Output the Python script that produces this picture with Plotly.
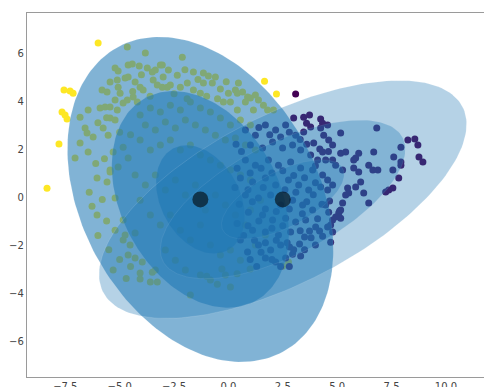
import numpy as np
import plotly.graph_objects as go

# Points assigned to the yellow component (label 1)
label1_x = [-5.99, -7.56, -7.28, -7.14, -7.65, -7.51, -7.42, -7.79, -8.34, 1.66, 2.21,
            -4.65, -3.82, -2.12, -5.21, -5.07, -4.61, -4.42, -4.10, -3.73, -3.50, -3.36, -3.13,
            -2.76, -2.35, -1.61, -1.15, -0.92, -5.81, -5.58, -5.44, -5.11, -5.07, -4.98, -4.75,
            -4.61, -4.29, -4.06, -3.92, -3.46, -3.27, -2.81, -1.89, -1.15, -0.74, -0.37, 0.00,
            0.32, -5.90, -5.67, -5.44, -5.21, -5.11, -4.84, -4.65, -4.38, -4.19, -6.82, -6.45,
            -5.44, -5.21, -6.59, -6.50, -6.22, -5.76, -5.53, -6.82, -6.45, -7.05, -6.04, -5.58,
            -5.30, -4.84, -4.61, -5.44, -5.07, -3.04, -2.67, -2.21, -1.61, -1.29, 0.46, 0.41,
            0.65, 0.88, 0.09, -0.23, 1.24, 1.38, 1.61, 0.78, 1.01, 1.80, 2.07, 1.15, 0.41,
            -3.04, -6.27, -6.04, -5.21, -4.84, -5.21, -4.75, -4.84, -4.61, -4.29, -3.96, -5.30,
            -4.06, -4.06, -3.50, -3.36, -3.59, -3.27, -1.75, -4.29, -4.52, -0.51, 0.09, 2.49,
            2.76, -5.44,
            -4.06, -3.59, -3.13, -2.67, -2.21, -1.75, -1.29, -0.83, -0.37, 0.09, 0.55, 1.01,
            -3.82, -3.36, -2.90, -2.44, -1.98, -1.52, -1.06, -0.60, -0.14, 0.32, 0.78, 1.24,
            -4.06, -3.59, -3.13, -2.67, -2.21, -1.75, -1.29, -0.83, -0.37, 0.09, 0.55, 1.01,
            -4.29, -3.82, -3.36, -2.90, -2.44, -1.98, -1.52, -1.06, -0.60, -0.14, 0.32, 0.78,
            -4.06, -3.59, -3.13, -2.67, -2.21, -1.75, -1.29, -0.83, -0.37, 0.09, 0.55, 1.24,
            1.70, 1.47, 1.01, -2.90, -2.44, -1.98, -1.29, -0.83, -0.14,
            -4.00, -3.00, -2.00, -1.40, -0.60, -0.10, -4.40, -3.60, -2.50, -1.90, -1.00, -0.50,
            -5.60, -6.00, -5.00, -4.50, -6.10, -5.70, -6.40, -5.80, -5.60, -6.00, -5.50, -5.00,
            -4.50, -4.70, -0.30, 0.40, 1.00, -1.00]
label1_y = [6.42, 4.46, 4.42, 4.33, 3.54, 3.42, 3.25, 2.21, 0.37, 4.83, 4.29,
            6.25, 6.00, 5.83, 5.38, 5.25, 5.50, 5.54, 5.46, 5.38, 5.21, 5.29, 5.50,
            5.29, 5.08, 5.21, 5.17, 5.04, 4.46, 4.38, 4.79, 4.88, 4.58, 4.33, 4.96,
            5.00, 4.79, 4.58, 4.46, 4.88, 4.67, 4.58, 4.75, 4.75, 4.75, 4.50, 4.33,
            4.46, 3.71, 3.75, 3.75, 4.04, 3.63, 3.92, 4.04, 4.17, 3.96, 3.33, 3.63,
            3.29, 3.21, 2.88, 2.67, 2.50, 2.88, 2.58, 2.25, 1.88, 1.63, 0.79, 0.63,
            1.88, 2.08, 1.63, 1.13, 1.25, 5.50, 4.67, 4.58, 4.46, 4.33, 4.75, 4.33,
            4.38, 4.17, 3.96, 3.96, 4.25, 4.04, 3.83, 3.96, 4.13, 3.63, 3.63, 3.63, 3.63,
            4.58, -0.38, -0.75, -0.04, -0.96, -1.38, -1.58, -1.79, -2.42, -2.54, -2.71, -3.04,
            -3.17, -3.42, -3.13, -3.04, -3.54, -3.54, -4.08, -1.50, -2.00, -3.63, -3.75, -2.88,
            -2.71, 1.04,
            3.42, 3.71, 3.54, 3.83, 3.63, 3.96, 3.71, 3.54, 3.29, 3.00, 3.21, 3.00,
            3.00, 2.79, 3.13, 2.88, 3.21, 3.00, 2.79, 2.58, 2.38, 2.46, 2.17, 1.96,
            2.38, 1.96, 2.17, 2.38, 1.96, 2.17, 1.75, 1.54, 1.33, 1.13, 0.92, 0.71,
            0.92, 0.50, 0.92, 0.29, 0.71, 0.08, 0.50, -0.54, 0.08, -0.33, -0.75, -1.17,
            -0.13, -0.75, -1.17, -0.75, -1.38, -1.79, -1.17, -2.00, -2.42, -2.21, -2.63, -2.00,
            -1.58, -0.13, -0.54, -2.21, -2.63, -3.04, -3.25, -3.46, -3.25,
            5.10, 5.00, 5.30, 4.90, 5.00, 4.80, 4.40, 4.20, 4.30, 4.10, 4.20, 4.10,
            3.30, 3.10, 2.70, 2.60, 1.40, 1.60, 0.20, -0.10, -1.00, -1.60, -2.20, -2.60,
            -2.90, -3.40, -3.00, -3.20, -3.00, -3.30]

# Points assigned to the purple component (label 0)
label0_x = [3.09, 3.00, 3.46, 3.73, 3.59, 3.78, 4.24, 4.33, 4.56, 3.46, 4.24, 4.38, 5.16,
            6.82, 3.92, 4.61, 4.79, 4.33, 5.16, 5.39, 5.99, 5.85, 5.76, 6.68, 7.93, 8.25,
            8.57, 8.71, 8.76, 8.94, 7.60, 7.93, 4.10, 4.47, 4.79, 4.93, 5.25, 5.76, 5.99,
            6.45, 6.64, 6.87, 7.56, 7.83, 7.56, 7.23, 6.08, 5.85, 5.48, 5.53, 5.39, 6.22,
            6.45, 5.25, 5.16, 5.07, 4.93, 4.79, 4.70, 4.79, 5.16, 4.70, 7.37, 4.33, 4.56,
            4.79, 4.56, 4.24, 4.47, 4.61, 4.65, 5.11, 4.56, 4.19, 4.01, 3.73, 3.50, 3.27,
            3.32, 2.81, 2.95, 4.33, 7.93,
            0.78, 1.24, 1.70, 2.17, 2.63, 3.09, 1.01, 1.57, 2.03, 2.49, 2.95, 3.32, 3.78,
            0.78, 1.24, 1.84, 2.30, 2.86, 3.32, 3.87, 0.55, 1.11, 1.70, 2.17, 2.76, 3.23,
            3.69, 0.78, 1.38, 1.94, 2.40, 2.95, 3.41, 3.87, 0.92, 1.57, 2.03, 2.63, 3.09,
            3.55, 1.11, 1.70, 2.30, 2.86, 1.38, 1.94, 2.40, 1.70, 2.17, 2.63, 0.55, 0.88,
            0.35, 0.60, 1.40, 1.90, 2.40, 2.80, 3.30, 3.60, 0.40, 1.00, 1.50, 2.00, 2.50,
            3.00, 3.50, 4.00, 0.30, 0.90, 1.60, 2.60, 3.10, 3.90, 0.50, 1.10, 1.70, 2.20,
            2.80, 3.40, 4.10, 0.40, 0.90, 1.40, 2.00, 2.50, 3.30, 3.80, 0.70, 1.20, 1.70,
            2.20, 2.70, 3.00, 1.00, 1.50, 2.00, 2.40, 1.30, 2.80, 3.50, 4.00, 4.20, 4.60,
            4.00, 4.30, 3.60]
label0_y = [4.29, 3.29, 3.33, 3.42, 3.08, 2.92, 3.25, 3.08, 3.00, 2.71, 2.88, 2.58, 2.67,
            2.88, 2.25, 2.38, 2.17, 1.88, 1.83, 1.88, 1.83, 1.63, 1.54, 1.88, 2.08, 2.38,
            2.42, 2.17, 1.67, 1.46, 1.67, 1.46, 1.54, 1.54, 1.54, 1.33, 1.13, 1.21, 1.04,
            1.33, 1.13, 1.13, 1.13, 0.79, 0.38, 0.21, 0.63, 0.42, 0.38, 0.17, 0.08, 0.17,
            -0.25, -0.25, -0.54, -0.67, -0.83, -0.96, -1.17, -1.46, -0.88, -1.88, 0.29, 0.92, 0.71,
            0.50, 0.29, 0.42, -0.33, -0.63, -0.17, -0.58, -1.25, -1.42, -1.25, -1.42, -1.67, -1.96,
            -2.46, -2.08, -2.38, -1.63, 1.33,
            2.79, 2.58, 3.00, 2.79, 3.00, 2.58, 2.17, 2.04, 2.29, 2.04, 2.17, 1.96, 1.75,
            1.54, 1.33, 1.54, 1.33, 1.46, 1.21, 1.13, 0.79, 0.63, 0.79, 0.50, 0.71, 0.50,
            0.29, 0.08, -0.04, 0.08, -0.33, -0.13, -0.33, -0.54, -0.63, -0.75, -0.96, -0.88, -1.04,
            -0.96, -1.38, -1.46, -1.58, -1.46, -2.00, -2.21, -2.00, -2.54, -2.71, -2.54, -1.79, -2.29,
            2.20, 1.90, 2.90, 2.60, 2.50, 2.70, 2.40, 2.20, 1.20, 1.00, 1.20, 1.00, 1.10,
            0.90, 0.80, 0.60, 0.40, 0.30, 0.40, 0.30, 0.20, 0.10, -0.30, -0.20, -0.50, -0.60,
            -0.50, -0.70, -0.90, -1.10, -1.20, -1.00, -1.30, -1.20, -1.40, -1.70, -1.60, -1.80, -1.90,
            -1.80, -1.90, -2.20, -2.60, -2.30, -2.60, -2.90, -2.90, -2.90, -2.20, -2.00, 2.00, 1.90,
            1.30, -0.30, -0.20]

# Fitted mixture components: means and covariances
means = [[-1.29, -0.10], [2.50, -0.10]]
covariances = [[[4.15, -1.42], [-1.42, 5.10]],
               [[7.93, 2.94], [2.94, 2.73]]]
ellipse_alpha = [0.56, 0.33]
sigma_levels = [1, 2, 3]

x_ticks = [-7.5, -5.0, -2.5, 0.0, 2.5, 5.0, 7.5, 10.0]
y_ticks = [-6, -4, -2, 0, 2, 4, 6]

fig = go.Figure()

fig.add_trace(go.Scatter(x=label1_x, y=label1_y, mode="markers",
                         marker=dict(color="#fde725", size=7, line=dict(width=0)),
                         hoverinfo="skip"))
fig.add_trace(go.Scatter(x=label0_x, y=label0_y, mode="markers",
                         marker=dict(color="#440154", size=7, line=dict(width=0)),
                         hoverinfo="skip"))

# 1, 2 and 3 sigma ellipses for each component
t = np.linspace(0, 2 * np.pi, 200)
for mean, cov, alpha in zip(means, covariances, ellipse_alpha):
    vals, vecs = np.linalg.eigh(np.array(cov))
    for nsig in sigma_levels:
        a = nsig * np.sqrt(vals[0])
        b = nsig * np.sqrt(vals[1])
        pts = vecs @ np.vstack([a * np.cos(t), b * np.sin(t)])
        fig.add_trace(go.Scatter(x=pts[0] + mean[0], y=pts[1] + mean[1],
                                 mode="lines", fill="toself",
                                 fillcolor=f"rgba(31,119,180,{alpha})",
                                 line=dict(color="rgba(255,255,255,0.15)", width=0.8),
                                 hoverinfo="skip"))

fig.add_trace(go.Scatter(x=[m[0] for m in means], y=[m[1] for m in means], mode="markers",
                         marker=dict(color="rgba(0,0,0,0.58)", size=16, line=dict(width=0)),
                         hoverinfo="skip"))

axis_common = dict(showgrid=False, zeroline=False, showline=True, mirror=True,
                   linecolor="#9a9a9a", linewidth=1.3, ticks="",
                   tickfont=dict(family="DejaVu Sans", size=10, color="#444444"))

fig.update_xaxes(range=[-9.26, 11.75], tickvals=x_ticks,
                 ticktext=[f"{v:.1f}".replace("-", "\u2212") for v in x_ticks],
                 automargin=False, **axis_common)
fig.update_yaxes(range=[-7.5, 7.67], tickvals=y_ticks,
                 ticktext=[str(v).replace("-", "\u2212") for v in y_ticks],
                 automargin=False, **axis_common)

fig.update_layout(width=484, height=387, showlegend=False,
                  margin=dict(l=27, r=0, t=13, b=10),
                  paper_bgcolor="white", plot_bgcolor="white")

fig.write_html("out.html")
